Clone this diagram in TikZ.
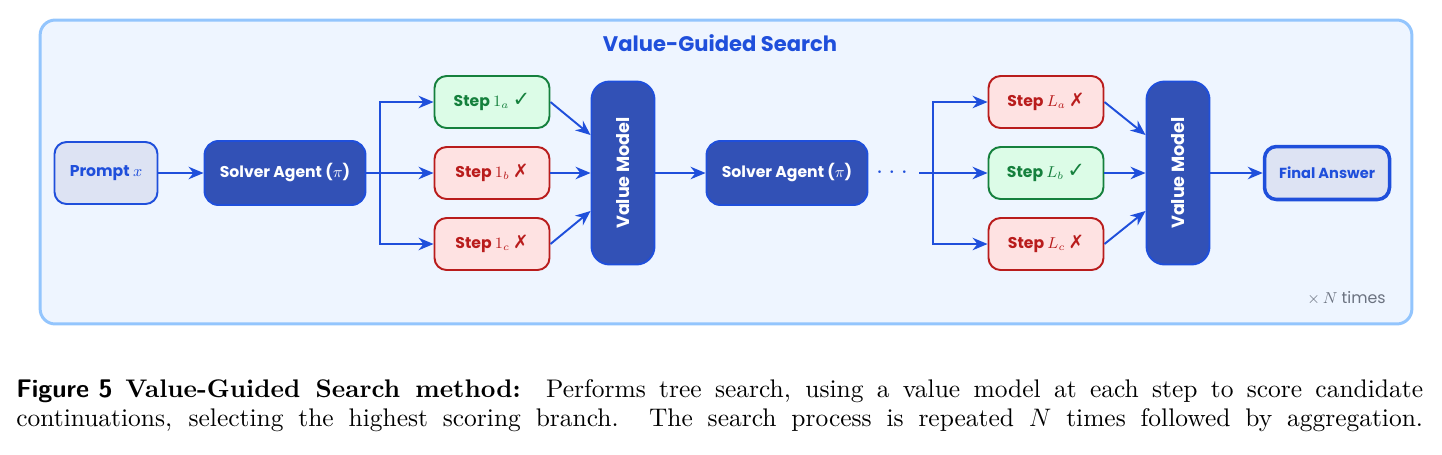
\documentclass[tikz,border=0pt]{standalone}
\usepackage{amsmath}
\usepackage{fontspec}
\usepackage{tikz}
\usetikzlibrary{arrows.meta}
\usetikzlibrary{positioning}
\newfontfamily\diafont{Poppins}
\newfontfamily\symfont{DejaVu Sans}
\newfontfamily\capfont[Extension=.otf, UprightFont=lmroman10-regular,
  BoldFont=lmroman10-bold, ItalicFont=lmroman10-italic]{lmroman10}
\definecolor{linkblue}{HTML}{1F4FDB}
\definecolor{agentfill}{HTML}{3251B6}
\definecolor{lightfill}{HTML}{DDE3F3}
\definecolor{framefill}{HTML}{EEF5FF}
\definecolor{framedraw}{HTML}{93C5FD}
\definecolor{goodfill}{HTML}{DCFCE7}
\definecolor{gooddraw}{HTML}{15803D}
\definecolor{badfill}{HTML}{FEE2E2}
\definecolor{baddraw}{HTML}{B91C1C}
\definecolor{notegray}{HTML}{6B7280}
\newcommand{\good}{{\symfont\bfseries\fontsize{12}{10}\selectfont ✓}}
\newcommand{\bad}{{\symfont\bfseries\fontsize{10.5}{10}\selectfont ✗}}
\newcommand{\dotcell}{\makebox[0.25cm]{$\cdot$}}
\tikzset{%
  myedge/.style={-{Stealth[length=3mm,width=2.5mm]}, line width=1.1pt, draw=linkblue},
  mybox/.style={rectangle, rounded corners=0.24cm, line width=1.1pt, inner sep=0pt,
    font=\diafont\bfseries\fontsize{8.9}{10}\selectfont},
  promptbox/.style={mybox, draw=linkblue, fill=lightfill, text=linkblue,
    minimum width=2.06cm, minimum height=1.24cm},
  agentbox/.style={mybox, draw=linkblue, fill=agentfill, text=white,
    rounded corners=0.28cm, minimum width=3.22cm, minimum height=1.28cm},
  goodstep/.style={mybox, draw=gooddraw, fill=goodfill, text=gooddraw,
    minimum width=2.3cm, minimum height=1.04cm},
  badstep/.style={mybox, draw=baddraw, fill=badfill, text=baddraw,
    minimum width=2.3cm, minimum height=1.04cm},
  valuebox/.style={mybox, draw=linkblue, fill=agentfill, text=white,
    font=\diafont\bfseries\fontsize{10}{11}\selectfont,
    rounded corners=0.36cm, minimum width=1.26cm, minimum height=3.66cm},
  answerbox/.style={mybox, draw=linkblue, fill=lightfill, text=linkblue,
    font=\diafont\bfseries\fontsize{8.3}{10}\selectfont,
    line width=2pt, minimum width=2.5cm, minimum height=1.06cm},
  captext/.style={inner sep=0pt, anchor=base west, font=\capfont\fontsize{14.5}{17}\selectfont}
}

\begin{document}
\begin{tikzpicture}[x=0.02cm,y=-0.02cm]
  \useasboundingbox (0,0) rectangle (1442,454);

  \node[rectangle, rounded corners=0.3cm, line width=1.7pt, draw=framedraw, fill=framefill,
    minimum width=27.44cm, minimum height=6.08cm] (frame) at (726,172) {};
  \node[text=linkblue, font=\diafont\bfseries\fontsize{12}{14}\selectfont] (title) at (720,43) {Value-Guided Search};

  \node[promptbox] (prompt) at (106,173) {Prompt $x$};
  \node[agentbox] (agent1) at (285,173) {Solver Agent ($\pi$)};
  \node[goodstep] (s1a) at (492,102) {Step $1_a$\ \good};
  \node[badstep] (s1b) at (492,173) {Step $1_b$\ \bad};
  \node[badstep] (s1c) at (492,244) {Step $1_c$\ \bad};
  \node[valuebox] (value1) at (623,173) {\rotatebox{90}{Value Model}};
  \node[agentbox] (agent2) at (787,173) {Solver Agent ($\pi$)};
  \node[text=linkblue, inner sep=0pt, font=\fontsize{14}{14}\selectfont] (dots) at (892,173) {\dotcell\dotcell\dotcell};
  \node[badstep] (sLa) at (1046,102) {Step $L_a$\ \bad};
  \node[goodstep] (sLb) at (1046,173) {Step $L_b$\ \good};
  \node[badstep] (sLc) at (1046,244) {Step $L_c$\ \bad};
  \node[valuebox] (value2) at (1178,173) {\rotatebox{90}{Value Model}};
  \node[answerbox] (answer) at (1327,173) {Final Answer};
  \node[text=notegray, anchor=east, inner sep=0pt, font=\diafont\fontsize{9}{10}\selectfont] (times) at (1386,298) {$\times\,N$ times};
  \coordinate (fork1) at (380,173);
  \coordinate (fork2) at (933,173);

  \draw[myedge] (prompt) -- (agent1);
  \draw[myedge] (agent1) -- (s1b);
  \draw[myedge] (agent1.east) -- (fork1) |- (s1a);
  \draw[myedge] (agent1.east) -- (fork1) |- (s1c);
  \draw[myedge] (s1a.east) -- ([yshift=0.76cm]value1.west);
  \draw[myedge] (s1b) -- (value1);
  \draw[myedge] (s1c.east) -- ([yshift=-0.76cm]value1.west);
  \draw[myedge] (value1) -- (agent2);
  \draw[myedge] ([xshift=0.16cm]dots.east) -- (sLb);
  \draw[myedge] ([xshift=0.16cm]dots.east) -- (fork2) |- (sLa);
  \draw[myedge] ([xshift=0.16cm]dots.east) -- (fork2) |- (sLc);
  \draw[myedge] (sLa.east) -- ([yshift=0.76cm]value2.west);
  \draw[myedge] (sLb) -- (value2);
  \draw[myedge] (sLc.east) -- ([yshift=-0.76cm]value2.west);
  \draw[myedge] (value2) -- (answer);

  \node[captext] (cap1) at (16,397) {\makebox[28.14cm][s]{\mbox{\sffamily\bfseries Figure 5}\enspace
    \textbf{Value-Guided Search method:}\quad Performs tree search, using a value model at each step to score candidate}};
  \node[captext] (cap2) at (16,426) {\makebox[28.14cm][s]{continuations, selecting the highest scoring branch.
    The search process is repeated $N$ times followed by aggregation.}};
\end{tikzpicture}
\end{document}
